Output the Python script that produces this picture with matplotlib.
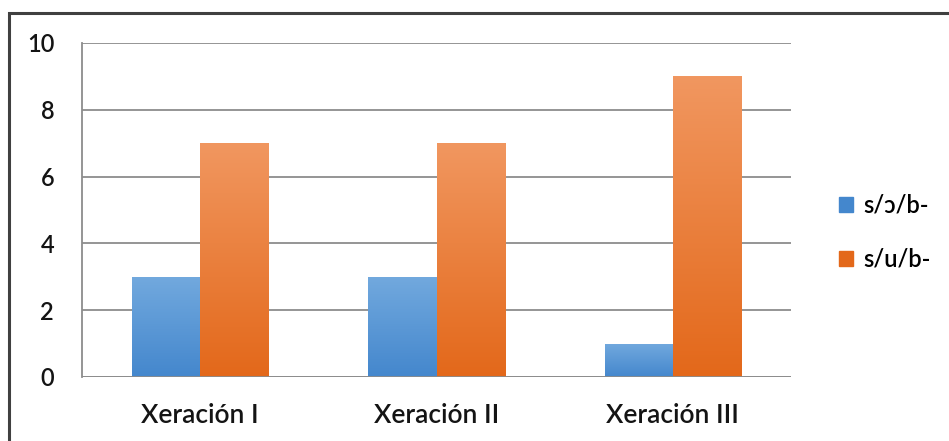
import matplotlib
matplotlib.use("Agg")
import matplotlib.pyplot as plt
import numpy as np
from matplotlib.patches import Rectangle
from matplotlib.colors import LinearSegmentedColormap

categories = ["Xeración I", "Xeración II", "Xeración III"]
series_names = ["s/ɔ/b-", "s/u/b-"]
s_o_b = [3, 3, 1]
s_u_b = [7, 7, 9]
yticks = [0, 2, 4, 6, 8, 10]

# top / bottom colours of each series' vertical gradient
GRAD = [("#72a9de", "#4487cd"), ("#f19760", "#e3681a")]

plt.rcParams.update({"font.family": ["Lato", "DejaVu Sans"], "font.size": 15})

W, H = 949, 441
fig = plt.figure(figsize=(W / 100, H / 100), dpi=100)
ax = fig.add_axes([82 / W, 1 - 377 / H, (791 - 82) / W, (377 - 43) / H])

x = np.arange(len(categories))
bw = 0.288
grad = np.linspace(0, 1, 256)[:, None]
for i, (vals, name) in enumerate(zip([s_o_b, s_u_b], series_names)):
    top, bot = GRAD[i]
    cmap = LinearSegmentedColormap.from_list(f"g{i}", [top, bot])
    bars = ax.bar(x + (i - 0.5) * bw, vals, bw, color=bot, label=name,
                  edgecolor="none", zorder=2)
    for b in bars:
        bx, by = b.get_x(), b.get_y()
        bh = b.get_height()
        im = ax.imshow(grad, cmap=cmap, aspect="auto", zorder=3,
                       extent=[bx, bx + bw, by, by + bh])
        im.set_clip_path(b)

txt = dict(color="#141414", fontweight="semibold")
ax.set_xlim(-0.5, len(categories) - 0.5)
ax.set_ylim(0, 10)
ax.set_xticks(x)
ax.set_xticklabels(categories, fontsize=19, **txt)
ax.set_yticks(yticks)
ax.set_yticklabels([str(t) for t in yticks], fontsize=17, **txt)
ax.tick_params(length=0)
ax.tick_params(axis="x", pad=19)
ax.tick_params(axis="y", pad=20)
ax.yaxis.grid(True, color="#8c8c8c", lw=1.3, zorder=1)
for s in ["top", "right", "bottom"]:
    ax.spines[s].set_visible(False)
ax.spines["left"].set_color("#8c8c8c")
ax.spines["left"].set_linewidth(1.3)
ax.axhline(0, color="#8c8c8c", lw=1.3, zorder=4)

leg = fig.legend(loc="center left", bbox_to_anchor=(839 / W, 1 - 232 / H),
                 frameon=False, prop={"size": 17, "weight": "semibold"},
                 borderpad=0, borderaxespad=0,
                 handlelength=0.6, handleheight=0.6, handletextpad=0.45,
                 labelspacing=1.3)
for h, (top, bot) in zip(leg.legend_handles, GRAD):
    h.set_color(bot)

# outer frame of the chart area
fig.patches.append(Rectangle((8.5 / W, -0.1), 1.2, 1 - 12.5 / H + 0.1,
                             transform=fig.transFigure, fill=False,
                             edgecolor="#404040", lw=2.2))

fig.savefig("out.png", dpi=100)
